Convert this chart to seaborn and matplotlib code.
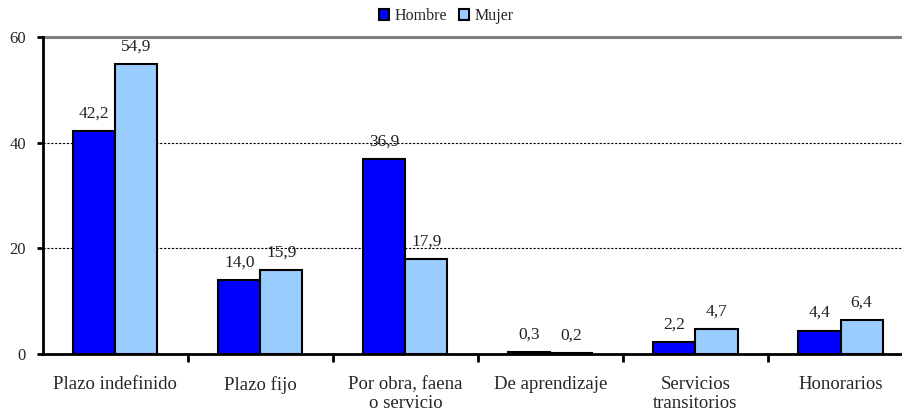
import matplotlib
matplotlib.use("Agg")
import matplotlib.pyplot as plt
import seaborn as sns
import pandas as pd
import numpy as np
from matplotlib.ticker import FixedLocator

categories = ["Plazo indefinido", "Plazo fijo", "Por obra, faena\no servicio",
              "De aprendizaje", "Servicios\ntransitorios", "Honorarios"]
hombre = [42.2, 14.0, 36.9, 0.3, 2.2, 4.4]
mujer = [54.9, 15.9, 17.9, 0.2, 4.7, 6.4]
series = ["Hombre", "Mujer"]
colors = ["#0000FF", "#99CCFF"]
yticks = [0, 20, 40, 60]

df = pd.DataFrame({
    "cat": categories * 2,
    "serie": ["Hombre"] * len(categories) + ["Mujer"] * len(categories),
    "val": hombre + mujer,
})

sns.set_theme(style="white")
plt.rcParams["font.family"] = ["Liberation Serif", "DejaVu Serif"]

fig = plt.figure(figsize=(9.02, 4.16), dpi=100)
ax = fig.add_axes([0.0473, 0.149, 0.965, 0.762])

sns.barplot(data=df, x="cat", y="val", hue="serie", hue_order=series,
            palette=colors, width=0.58, edgecolor="black", linewidth=1.5,
            saturation=1, ax=ax, legend=True)

for cont in ax.containers:
    labels = [f"{b.get_height():.1f}".replace(".", ",") for b in cont]
    ax.bar_label(cont, labels=labels, padding=7, fontsize=12.5, color="#222222")

ax.set_ylim(0, 60)
ax.set_xlim(-0.5, len(categories) - 0.5)
ax.set_yticks(yticks)
ax.set_yticklabels([str(t) for t in yticks], fontsize=12)
ax.set_xlabel("")
ax.set_ylabel("")

# gridlines
for t in [20, 40]:
    ax.axhline(t, color="black", linestyle=(0, (2, 1.5)), linewidth=0.8, zorder=0)
ax.axhline(60, color="#808080", linewidth=2.2, zorder=0, clip_on=False)

for s in ["top", "right"]:
    ax.spines[s].set_visible(False)
for s in ["left", "bottom"]:
    ax.spines[s].set_color("black")
    ax.spines[s].set_linewidth(2)

ax.tick_params(axis="y", which="major", left=True, length=4, width=2, color="black", pad=8)
ax.tick_params(axis="x", which="major", bottom=False, labelsize=13.5, pad=10)
ax.xaxis.set_minor_locator(FixedLocator(np.arange(0.5, len(categories) - 0.5, 1)))
ax.tick_params(axis="x", which="minor", bottom=True, length=6, width=2, color="black")
for lab in ax.get_xticklabels():
    lab.set_linespacing(1.1)

handles, labs = ax.get_legend_handles_labels()
ax.get_legend().remove()
leg = fig.legend(handles, labs, loc="center", bbox_to_anchor=(0.495, 0.962), ncol=2,
                 frameon=False, fontsize=11.5, handlelength=0.65, handleheight=0.65,
                 handletextpad=0.35, columnspacing=0.7, borderpad=0)
for h in leg.legend_handles:
    h.set_edgecolor("black")
    h.set_linewidth(1.5)

fig.savefig("out.png", dpi=100)
